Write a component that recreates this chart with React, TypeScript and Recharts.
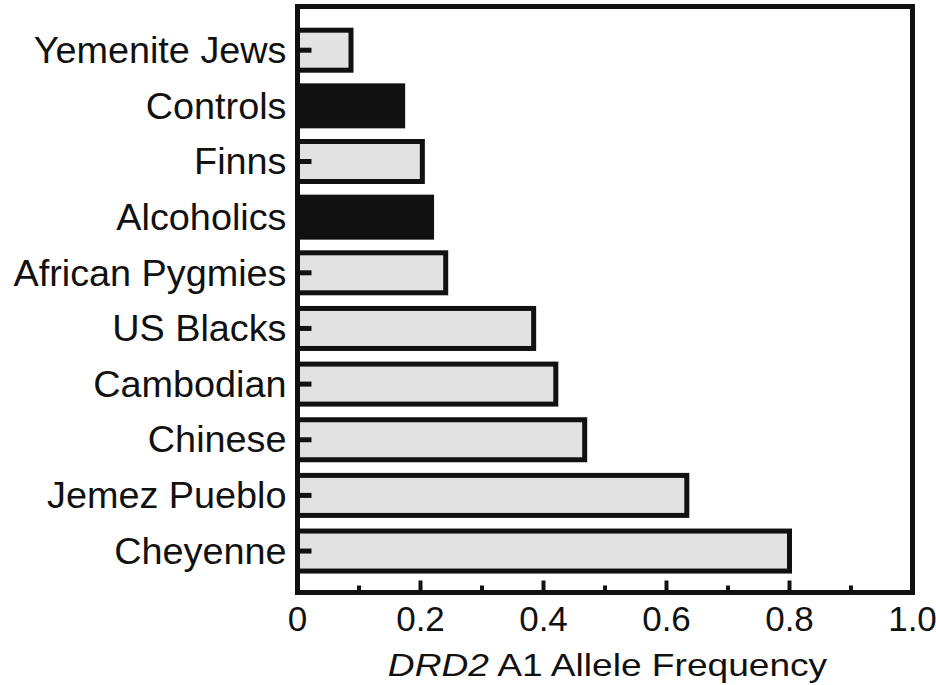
import React from "react";
import { BarChart, Bar, XAxis, YAxis } from "recharts";

// population groups, top to bottom
const groups = [
  "Yemenite Jews",
  "Controls",
  "Finns",
  "Alcoholics",
  "African Pygmies",
  "US Blacks",
  "Cambodian",
  "Chinese",
  "Jemez Pueblo",
  "Cheyenne",
];

// DRD2 A1 allele frequency
const frequencies = [0.087, 0.171, 0.203, 0.218, 0.241, 0.384, 0.42, 0.467, 0.633, 0.8];

// groups drawn as solid black bars
const solidGroups = ["Controls", "Alcoholics"];

const xTicks = [0, 0.1, 0.2, 0.3, 0.4, 0.5, 0.6, 0.7, 0.8, 0.9, 1.0];
const xTickLabels = ["0", "", "0.2", "", "0.4", "", "0.6", "", "0.8", "", "1.0"];

const data = groups.map((group, i) => ({ group, value: frequencies[i] }));

const FONT = "'Liberation Sans', Arial, Helvetica, sans-serif";
const INK = "#111";
const LIGHT = "#e2e2e2";

const BarShape = (props: any) => {
  const { x, y, width, height, payload } = props;
  const solid = solidGroups.includes(payload.group);
  const cy = y + height / 2;
  return (
    <g>
      <rect
        x={x}
        y={y}
        width={width}
        height={height}
        fill={solid ? INK : LIGHT}
        stroke={INK}
        strokeWidth={5}
      />
      <line x1={x} x2={x + 14} y1={cy} y2={cy} stroke={INK} strokeWidth={5} />
    </g>
  );
};

const GroupTick = (props: any) => {
  const { x, y, payload } = props;
  return (
    <g transform={`translate(${x - 11} ${y + 12.9}) scale(1.05 1)`}>
      <text x={0} y={0} textAnchor="end" fill={INK} fontSize={36} fontFamily={FONT}>
        {payload.value}
      </text>
    </g>
  );
};

const FreqTick = (props: any) => {
  const { x, y, index } = props;
  const label = xTickLabels[index];
  const len = label ? 12 : 7;
  return (
    <g>
      <line x1={x} x2={x} y1={y} y2={y - len} stroke={INK} strokeWidth={4} />
      {label && (
        <text
          x={x}
          y={y + 38}
          textAnchor="middle"
          fill={INK}
          fontSize={35}
          fontFamily={FONT}
        >
          {label}
        </text>
      )}
    </g>
  );
};

const frameLine = { stroke: INK, strokeWidth: 5, strokeLinecap: "square" as const };

export default function App() {
  return (
    <div style={{ position: "absolute", left: 0, top: 0, background: "#fff" }}>
      <BarChart
        width={936}
        height={685}
        data={data}
        layout="vertical"
        margin={{ top: 5.5, right: 22.5, bottom: 0, left: 0 }}
        barSize={40}
      >
        <XAxis
          type="number"
          dataKey="value"
          domain={[0, 1]}
          ticks={xTicks}
          interval={0}
          height={92.5}
          tickSize={0}
          tickMargin={0}
          tickLine={false}
          axisLine={frameLine}
          tick={(p: any) => <FreqTick {...p} />}
        />
        <XAxis
          xAxisId="top"
          orientation="top"
          type="number"
          dataKey="value"
          domain={[0, 1]}
          height={1}
          tick={false}
          tickLine={false}
          axisLine={frameLine}
        />
        <YAxis
          type="category"
          dataKey="group"
          width={297.5}
          interval={0}
          padding={{ top: 15.7, bottom: 13.8 }}
          tickSize={0}
          tickMargin={0}
          tickLine={false}
          axisLine={frameLine}
          tick={(p: any) => <GroupTick {...p} />}
        />
        <YAxis
          yAxisId="right"
          orientation="right"
          type="category"
          dataKey="group"
          width={1}
          tick={false}
          tickLine={false}
          axisLine={frameLine}
        />
        <Bar dataKey="value" isAnimationActive={false} shape={(p: any) => <BarShape {...p} />} />
      </BarChart>
      <svg
        width={936}
        height={685}
        style={{ position: "absolute", left: 0, top: 0, pointerEvents: "none" }}
      >
        <g transform="translate(607.5 676) scale(1.16 1)">
          <text textAnchor="middle" fill={INK} fontSize={32} fontFamily={FONT}>
            <tspan fontStyle="italic">DRD2</tspan>
            <tspan> A1 Allele Frequency</tspan>
          </text>
        </g>
      </svg>
    </div>
  );
}
